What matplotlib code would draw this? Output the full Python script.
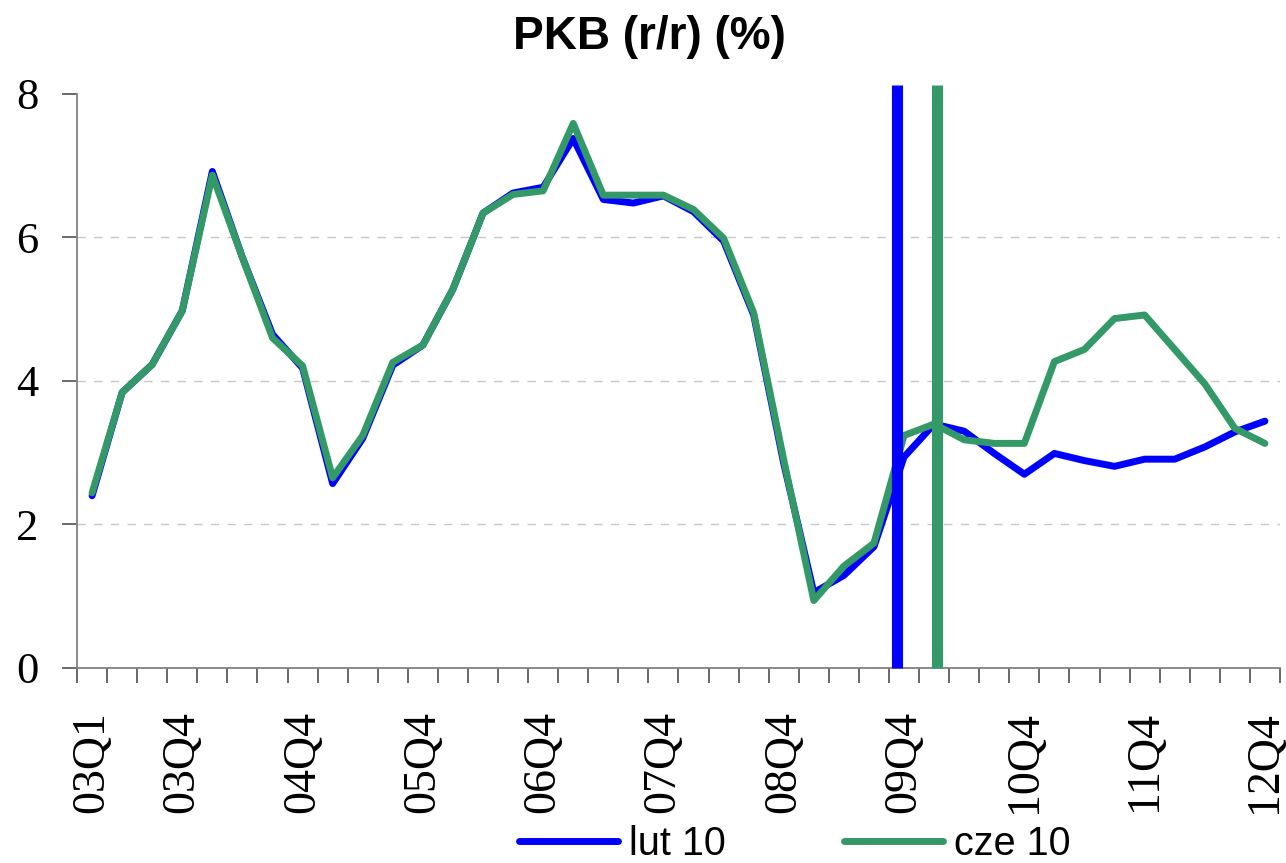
import matplotlib
matplotlib.use("Agg")
import matplotlib.pyplot as plt
import numpy as np

# quarters 03Q1 .. 12Q4
quarters = [f"{y:02d}Q{q}" for y in range(3, 13) for q in range(1, 5)]
tick_labels = ["03Q1", "03Q4", "04Q4", "05Q4", "06Q4", "07Q4",
               "08Q4", "09Q4", "10Q4", "11Q4", "12Q4"]

# PKB r/r (%) - projection from February 2010
lut_10 = [2.40, 3.84, 4.23, 4.98, 6.92, 5.72, 4.65, 4.18, 2.57, 3.20,
          4.22, 4.50, 5.28, 6.34, 6.62, 6.70, 7.38, 6.53, 6.48, 6.58,
          6.36, 5.95, 4.92, 2.85, 1.05, 1.29, 1.69, 2.94, 3.40, 3.30,
          2.99, 2.70, 2.99, 2.89, 2.81, 2.91, 2.91, 3.08, 3.29, 3.44]
# projection from June 2010
cze_10 = [2.44, 3.84, 4.23, 4.98, 6.87, 5.72, 4.60, 4.21, 2.65, 3.24,
          4.26, 4.50, 5.28, 6.34, 6.60, 6.65, 7.59, 6.59, 6.59, 6.59,
          6.39, 5.99, 4.95, 2.90, 0.94, 1.42, 1.74, 3.24, 3.40, 3.18,
          3.13, 3.13, 4.27, 4.44, 4.87, 4.92, 4.44, 3.96, 3.34, 3.13]

# start of forecast horizon (in quarter index units)
start_lut = 26.78
start_cze = 28.1

BLUE = "#0000ff"
GREEN = "#339966"

fig = plt.figure(figsize=(12.86, 8.63), dpi=100)
ax = fig.add_axes([0.0599, 0.226, 0.9354, 0.6651])

x = np.arange(len(quarters))
ax.plot(x, lut_10, color=BLUE, lw=5, solid_capstyle="round",
        solid_joinstyle="round", label="lut 10", zorder=3)
ax.plot(x, cze_10, color=GREEN, lw=5, solid_capstyle="round",
        solid_joinstyle="round", label="cze 10", zorder=4)

# forecast markers
ax.vlines(start_lut, 0, 8.12, color=BLUE, lw=8, zorder=5, clip_on=False)
ax.vlines(start_cze, 0, 8.12, color=GREEN, lw=8, zorder=5, clip_on=False)

ax.set_xlim(-0.5, len(quarters) - 0.5)
ax.set_ylim(0, 8)

for y in [2, 4, 6]:
    ax.axhline(y, color="#c8c8c8", lw=1, ls=(0, (6, 6)), zorder=1)

for side in ["top", "right"]:
    ax.spines[side].set_visible(False)
ax.spines["left"].set_color("#808080")
ax.spines["bottom"].set_color("#808080")
ax.spines["left"].set_linewidth(1.3)
ax.spines["bottom"].set_linewidth(1.3)

ax.set_yticks([0, 2, 4, 6, 8])
ax.set_yticklabels(["0", "2", "4", "6", "8"], family="Liberation Serif",
                   fontsize=32)
ax.tick_params(axis="y", direction="out", length=11, width=1.1,
               color="#404040", pad=17)

ax.set_xticks([quarters.index(t) for t in tick_labels])
ax.set_xticklabels(tick_labels, rotation=90, family="Liberation Serif",
                   fontsize=33)
ax.tick_params(axis="x", which="major", length=0, pad=31)
ax.set_xticks(np.arange(-0.5, len(quarters)), minor=True)
ax.tick_params(axis="x", which="minor", direction="out", length=11,
               width=1.1, color="#404040")

fig.text(0.505, 0.957, "PKB (r/r) (%)", ha="center", va="center",
         fontsize=33, fontweight="bold", family="Liberation Sans")

fig.legend(loc="center", bbox_to_anchor=(0.618, 0.022), ncol=2,
           frameon=False, borderpad=0, handlelength=2.5,
           handletextpad=0.28, columnspacing=3.0,
           prop={"family": "Liberation Sans", "size": 28.5})

fig.savefig("out.png", dpi=100)
